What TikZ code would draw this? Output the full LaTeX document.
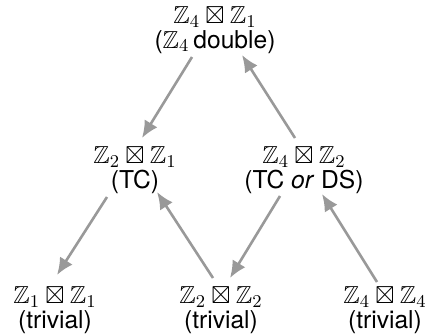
\documentclass[tikz,border=0pt]{standalone}
\usepackage{amssymb}
\usepackage[no-math]{fontspec}
\setmainfont{TeX Gyre Heros}
\usetikzlibrary{arrows.meta,calc}

\begin{document}
\begin{tikzpicture}[x=0.5pt,y=-0.5pt,
            group/.style={align=center,inner sep=0pt,font=\fontsize{12.3}{12.4}\selectfont},
            flow/.style={draw=black!40,line width=1.3pt,-{Latex[length=8.5pt,width=7.5pt]}}]
            \useasboundingbox (0,0) rectangle (429,333);

            \node[group] (top) at (215,30) {$\mathbb{Z}_4\boxtimes\mathbb{Z}_1$\\($\mathbb{Z}_4$\,double)};
            \node[group] (tc) at (135,170) {$\mathbb{Z}_2\boxtimes\mathbb{Z}_1$\\(TC)};
            \node[group] (tcds) at (304,170) {$\mathbb{Z}_4\boxtimes\mathbb{Z}_2$\\(TC \emph{or} DS)};
            \node[group] (triva) at (55,310) {$\mathbb{Z}_1\boxtimes\mathbb{Z}_1$\\(trivial)};
            \node[group] (trivb) at (221,310) {$\mathbb{Z}_2\boxtimes\mathbb{Z}_2$\\(trivial)};
            \node[group] (trivc) at (385,310) {$\mathbb{Z}_4\boxtimes\mathbb{Z}_4$\\(trivial)};

            \draw[flow] ($(top)+(-23,27)$) to ($(tc)+(7,-32)$);
            \draw[flow] ($(tcds)+(-9,-32)$) to ($(top)+(27,25)$);
            \draw[flow] ($(tc)+(-28,27)$) to ($(triva)+(2,-35)$);
            \draw[flow] ($(trivb)+(-8,-32)$) to ($(tc)+(22,22)$);
            \draw[flow] ($(tcds)+(-24,26)$) to ($(trivb)+(9,-32)$);
            \draw[flow] ($(trivc)+(-8,-28)$) to ($(tcds)+(18,24)$);
\end{tikzpicture}
\end{document}
